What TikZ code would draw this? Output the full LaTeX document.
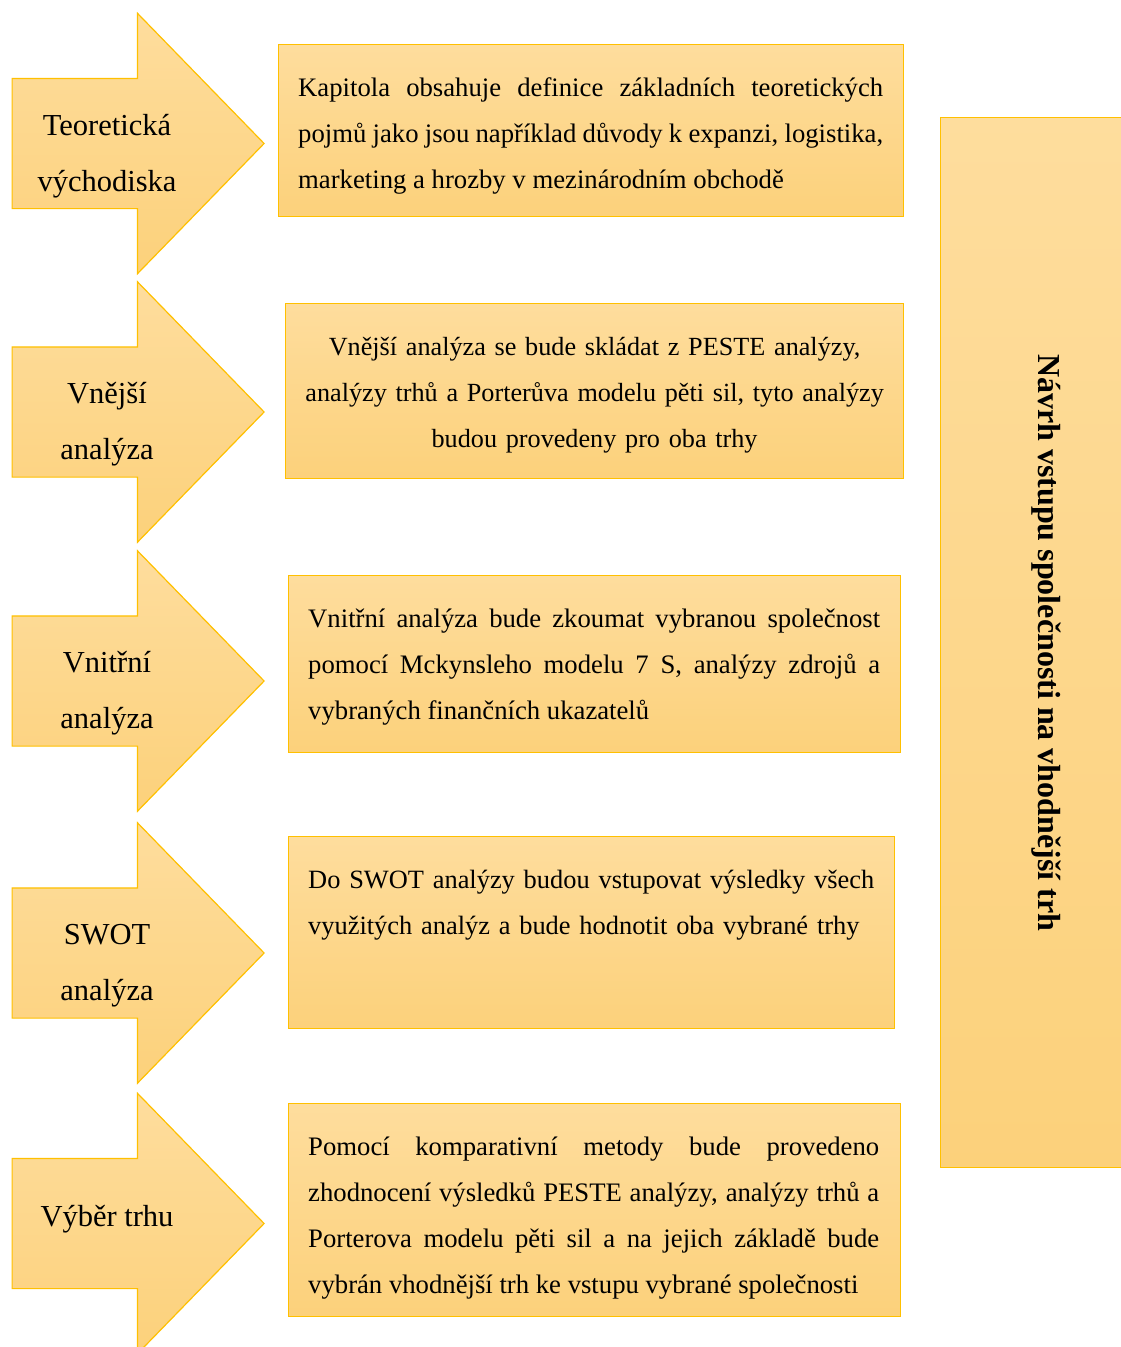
\documentclass[tikz,border=0pt]{standalone}
\usepackage{fontspec}
\setmainfont{Liberation Serif}
\usetikzlibrary{positioning,shapes.arrows}
\definecolor{amberTop}{HTML}{FEDD9D}
\definecolor{amberBot}{HTML}{FCD17B}
\definecolor{amberEdge}{HTML}{FFC000}
\hbadness=10000

\begin{document}
\begin{tikzpicture}[
        x=1pt, y=-1pt,
        stagearrow/.style={
            single arrow,
            draw=amberEdge,
            line width=1.2pt,
            top color=amberTop,
            bottom color=amberBot,
            text height=64.5pt,
            text depth=64.5pt,
            text width=0pt,
            minimum height=252pt,
            single arrow head extend=65pt,
            single arrow head indent=0pt,
            single arrow tip angle=91.6,
            inner sep=0pt,
            anchor=tail
        },
        stagelabel/.style={
            align=center,
            anchor=north,
            inner sep=0pt,
            font=\fontsize{30.5}{56}\selectfont
        },
        infobox/.style={
            draw=amberEdge,
            line width=1.2pt,
            top color=amberTop,
            bottom color=amberBot,
            anchor=north west,
            inner sep=0pt
        },
        infotext/.style={
            inner sep=0pt,
            font=\fontsize{26.7}{46}\selectfont
        },
        sidetitle/.style={
            rotate=-90,
            inner sep=0pt,
            font=\bfseries\fontsize{32}{38}\selectfont
        }
    ]
        \useasboundingbox (0,0) rectangle (1121,1347);

        % arrows on the left
        \node[stagearrow] (arrTeor) at (11.5,143.5) {};
        \node[stagearrow] (arrVnej) at (11.5,412) {};
        \node[stagearrow] (arrVnit) at (11.5,681) {};
        \node[stagearrow] (arrSwot) at (11.5,953) {};
        \node[stagearrow] (arrTrh) at (11.5,1223.5) {};

        \node[stagelabel] (lblTeor) at ([xshift=95.5pt,yshift=47.7pt]arrTeor.tail) {\strut Teoretická\\východiska};
        \node[stagelabel] (lblVnej) at ([xshift=95.5pt,yshift=47.7pt]arrVnej.tail) {\strut Vnější\\analýza};
        \node[stagelabel] (lblVnit) at ([xshift=95.5pt,yshift=47.7pt]arrVnit.tail) {\strut Vnitřní\\analýza};
        \node[stagelabel] (lblSwot) at ([xshift=95.5pt,yshift=47.7pt]arrSwot.tail) {\strut SWOT\\analýza};
        \node[stagelabel] (lblTrh) at ([xshift=95.5pt,yshift=36pt]arrTrh.tail) {\strut Výběr trhu};

        % text boxes
        \node[infobox, minimum width=625pt, minimum height=172pt] (boxTeor) at (278,44) {};
        \node[infobox, minimum width=618pt, minimum height=175pt] (boxVnej) at (285,303) {};
        \node[infobox, minimum width=612pt, minimum height=177pt] (boxVnit) at (288,575) {};
        \node[infobox, minimum width=606pt, minimum height=192pt] (boxSwot) at (288,836) {};
        \node[infobox, minimum width=612pt, minimum height=213pt] (boxTrh) at (288,1103) {};

        \node[infotext, text width=585pt, align=justify, below right=19.8pt and 20pt of boxTeor.north west] (txtTeor)
            {\strut Kapitola obsahuje definice základních teoretických\linebreak pojmů jako jsou například důvody k expanzi, logistika,\linebreak marketing a hrozby v mezinárodním obchodě};
        \node[infotext, text width=600pt, align=center, below=19.8pt of boxVnej.north, font=\fontsize{26.2}{46}\selectfont] (txtVnej)
            {\strut Vnější analýza se bude skládat z PESTE analýzy,\\analýzy trhů a Porterůva modelu pěti sil, tyto analýzy\\budou provedeny pro oba trhy};
        \node[infotext, text width=572pt, align=justify, below right=19.8pt and 20pt of boxVnit.north west] (txtVnit)
            {\strut Vnitřní analýza bude zkoumat vybranou společnost\linebreak pomocí Mckynsleho modelu 7 S, analýzy zdrojů a\linebreak vybraných finančních ukazatelů};
        \node[infotext, text width=590pt, align=left, below right=19.8pt and 20pt of boxSwot.north west, font=\fontsize{26.4}{46}\selectfont] (txtSwot)
            {\strut Do SWOT analýzy budou vstupovat výsledky všech\\využitých analýz a bude hodnotit oba vybrané trhy};
        \node[infotext, text width=571pt, align=justify, below right=19.8pt and 20pt of boxTrh.north west] (txtTrh)
            {\strut Pomocí komparativní metody bude provedeno\linebreak zhodnocení výsledků PESTE analýzy, analýzy trhů a\linebreak Porterova modelu pěti sil a na jejich základě bude\linebreak vybrán vhodnější trh ke vstupu vybrané společnosti};

        % right column
        \node[infobox, minimum width=212pt, minimum height=1050pt] (boxSide) at (940,117) {};
        \node[sidetitle] (txtSide) at (boxSide.center) {Návrh vstupu společnosti na vhodnější trh};
    \end{tikzpicture}
\end{document}
